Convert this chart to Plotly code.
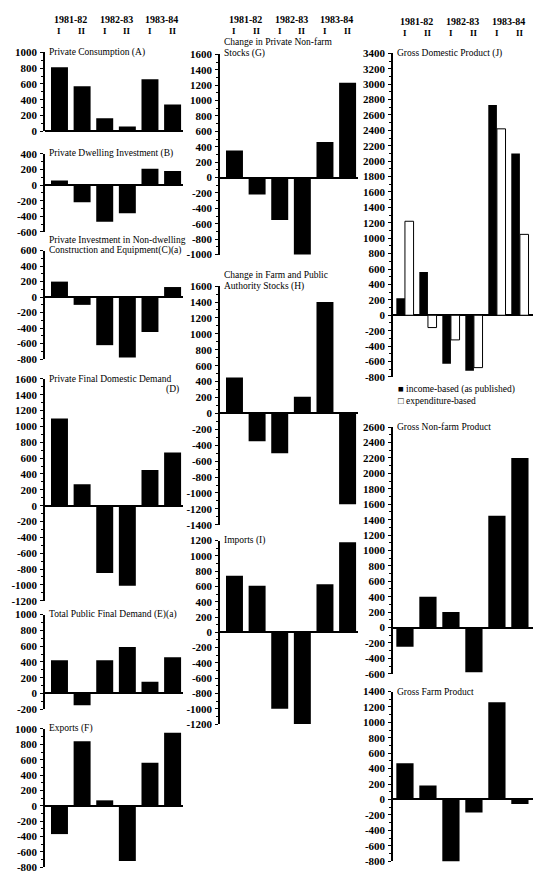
import plotly.graph_objects as go

# Half-year periods shown across every panel
periods = ["1981-82", "1982-83", "1983-84"]
halves = ["I", "II", "I", "II", "I", "II"]

# Changes in each aggregate ($m)
private_consumption = [810, 570, 165, 60, 660, 340]
private_dwelling = [60, -220, -470, -360, 210, 180]
private_nondwelling = [200, -100, -620, -780, -450, 130]
private_final_demand = [1100, 270, -850, -1010, 450, 670]
public_final_demand = [420, -150, 420, 590, 150, 460]
exports = [-370, 840, 70, -720, 560, 950]
nonfarm_stocks = [350, -220, -550, -1040, 460, 1230]
farm_public_stocks = [450, -350, -500, 210, 1400, -1140]
imports = [740, 610, -1000, -1240, 630, 1180]
gdp_income = [220, 560, -630, -720, 2730, 2100]
gdp_expenditure = [1220, -160, -320, -680, 2420, 1050]
gross_nonfarm = [-250, 400, 200, -580, 1450, 2200]
gross_farm = [470, 180, -830, -170, 1260, -60]

W, H = 542, 879
FONT = "Liberation Serif"
TITLE_SIZE = 9.5


def fx(px):
    return px / W


def fy(py):
    return 1 - py / H


# column geometry: (axis x, right edge, x range)
cols = {
    1: (45, 183, [-0.64, 5.46]),
    2: (220, 358, [-0.64, 5.46]),
    3: (393, 533, [-0.52, 5.57]),
}

# panel: column, y range, pixel y of top / bottom tick, title lines
panels = [
    dict(col=1, yr=[0, 1000], top=47, bot=127,
         title=["Private Consumption (A)"], series=[private_consumption]),
    dict(col=1, yr=[-600, 400], top=150, bot=229,
         title=["Private Dwelling Investment (B)"], series=[private_dwelling]),
    dict(col=1, yr=[-800, 600], top=248, bot=358,
         title=["Private Investment in Non-dwelling",
                "Construction and Equipment(C)(a)"],
         title_top=237, series=[private_nondwelling]),
    dict(col=1, yr=[-1200, 1600], top=378, bot=603,
         title=["Private Final Domestic Demand"], series=[private_final_demand]),
    dict(col=1, yr=[-200, 1000], top=617, bot=713,
         title=["Total Public Final Demand (E)(a)"], series=[public_final_demand]),
    dict(col=1, yr=[-800, 1000], top=733, bot=873,
         title=["Exports (F)"], series=[exports]),
    dict(col=2, yr=[-1000, 1600], top=49, bot=252,
         title=["Change in Private Non-farm", "Stocks (G)"], title_top=37,
         series=[nonfarm_stocks]),
    dict(col=2, yr=[-1400, 1600], top=284, bot=526,
         title=["Change in Farm and Public", "Authority Stocks (H)"], title_top=273,
         series=[farm_public_stocks]),
    dict(col=2, yr=[-1200, 1200], top=542, bot=728,
         title=["Imports (I)"], series=[imports]),
    dict(col=3, yr=[-800, 3400], top=48, bot=376,
         title=["Gross Domestic Product (J)"],
         series=[gdp_income, gdp_expenditure]),
    dict(col=3, yr=[-600, 2600], top=427, bot=677,
         title=["Gross Non-farm Product"], series=[gross_nonfarm]),
    dict(col=3, yr=[-800, 1400], top=695, bot=867,
         title=["Gross Farm Product"], series=[gross_farm]),
]

fig = go.Figure()
layout = dict(
    width=W, height=H, autosize=False,
    margin=dict(l=0, r=0, t=0, b=0),
    paper_bgcolor="white", plot_bgcolor="white",
    font=dict(family=FONT, size=10, color="black"),
    barmode="group", bargap=0.25, bargroupgap=0.0,
    showlegend=False,
)
annotations = []

for i, p in enumerate(panels, start=1):
    ax_x, right, xr = cols[p["col"]]
    xa = "x" if i == 1 else f"x{i}"
    ya = "y" if i == 1 else f"y{i}"
    for k, vals in enumerate(p["series"]):
        white = k == 1
        fig.add_trace(go.Bar(
            x=list(range(len(vals))), y=vals, xaxis=xa, yaxis=ya,
            marker=dict(color="white" if white else "black",
                        line=dict(color="black", width=1 if white else 0)),
            hoverinfo="skip",
        ))
    lo, hi = p["yr"]
    tickvals = list(range(lo, hi + 1, 200))
    ticktext = [f"-{abs(v)}" if v < 0 else str(v) for v in tickvals]
    layout[f"xaxis{'' if i == 1 else i}"] = dict(
        domain=[fx(ax_x), fx(right)], range=xr, anchor=ya,
        visible=False, fixedrange=True,
    )
    layout[f"yaxis{'' if i == 1 else i}"] = dict(
        domain=[fy(p["bot"]), fy(p["top"])], range=p["yr"], anchor=xa,
        tickmode="array", tickvals=tickvals, ticktext=ticktext,
        showline=True, linecolor="black", linewidth=1.5,
        ticks="outside", ticklen=3, tickwidth=1.2, tickcolor="black",
        minor=dict(ticks="outside", ticklen=2, tickcolor="black",
                   tickvals=[v + 100 for v in tickvals[:-1]]),
        showgrid=False, zeroline=True, zerolinecolor="black", zerolinewidth=1.5,
        tickfont=dict(family=FONT, size=11, color="black", weight="bold"),
        ticklabelstandoff=1, fixedrange=True,
    )
    # panel title
    t_top = p.get("title_top", p["top"])
    for j, line in enumerate(p["title"]):
        annotations.append(dict(
            text=line, xref="paper", yref="paper",
            x=fx(ax_x + 2), y=fy(t_top + 11 * j),
            xanchor="left", yanchor="middle", showarrow=False,
            font=dict(family=FONT, size=TITLE_SIZE, color="black"),
        ))

# trailing "(D)" on the second line of the private final demand title
annotations.append(dict(
    text="(D)", xref="paper", yref="paper", x=fx(181), y=fy(389),
    xanchor="right", yanchor="middle", showarrow=False,
    font=dict(family=FONT, size=TITLE_SIZE, color="black"),
))

# period headers above each column, aligned with the bars of its top panel
for axis_idx, y1, y2 in [(1, 14, 25), (7, 14, 25), (10, 16, 27)]:
    xa = "x" if axis_idx == 1 else f"x{axis_idx}"
    for j, per in enumerate(periods):
        annotations.append(dict(
            text=per, xref=xa, yref="paper", x=2 * j + 0.5, y=fy(y1),
            xanchor="center", yanchor="middle", showarrow=False,
            font=dict(family=FONT, size=10, color="black", weight="bold"),
        ))
    for j, h in enumerate(halves):
        annotations.append(dict(
            text=h, xref=xa, yref="paper", x=j, y=fy(y2),
            xanchor="center", yanchor="middle", showarrow=False,
            font=dict(family=FONT, size=9, color="black", weight="bold"),
        ))

# key for the two GDP measures
for j, (sym, lab) in enumerate([("\u25A0", "income-based (as published)"),
                                ("\u25A1", "expenditure-based")]):
    annotations.append(dict(
        text=f"{sym} {lab}", xref="paper", yref="paper",
        x=fx(396), y=fy(389 + 11 * j), xanchor="left", yanchor="middle",
        showarrow=False, font=dict(family=FONT, size=TITLE_SIZE, color="black"),
    ))

layout["annotations"] = annotations
fig.update_layout(**layout)
fig.write_html("out.html")
